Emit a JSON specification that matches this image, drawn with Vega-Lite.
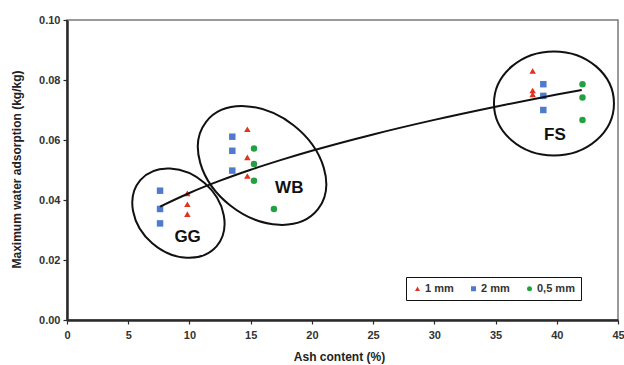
{
  "$schema": "https://vega.github.io/schema/vega-lite/v6.json",
  "autosize": "none",
  "width": 551,
  "height": 300,
  "padding": {"left": 67, "top": 20, "right": 6, "bottom": 45},
  "background": "white",
  "config": {
    "font": "Liberation Sans",
    "view": {"stroke": "#7a7a7a", "strokeWidth": 1.5},
    "axis": {
      "grid": false,
      "labelFont": "Liberation Sans",
      "labelFontWeight": "bold",
      "labelFontSize": 11,
      "labelColor": "#333333",
      "titleFont": "Liberation Sans",
      "titleFontWeight": "bold",
      "titleFontSize": 12,
      "titleColor": "#222222",
      "domainColor": "#2a2a2a",
      "domainWidth": 2.5,
      "tickColor": "#2a2a2a",
      "tickWidth": 1.2,
      "tickSize": 4
    },
    "legend": {
      "labelFont": "Liberation Sans",
      "labelFontWeight": "bold",
      "labelFontSize": 11,
      "labelColor": "#333333"
    }
  },
  "datasets": {
    "points": [
      {"size": "2 mm", "ash": 7.6, "water": 0.0431},
      {"size": "2 mm", "ash": 7.6, "water": 0.037},
      {"size": "2 mm", "ash": 7.6, "water": 0.0322},
      {"size": "1 mm", "ash": 9.83, "water": 0.0422},
      {"size": "1 mm", "ash": 9.83, "water": 0.0386},
      {"size": "1 mm", "ash": 9.83, "water": 0.0353},
      {"size": "2 mm", "ash": 13.5, "water": 0.0611},
      {"size": "2 mm", "ash": 13.5, "water": 0.0564},
      {"size": "2 mm", "ash": 13.5, "water": 0.0498},
      {"size": "1 mm", "ash": 14.73, "water": 0.0636},
      {"size": "1 mm", "ash": 14.73, "water": 0.0542},
      {"size": "1 mm", "ash": 14.73, "water": 0.048},
      {"size": "0,5 mm", "ash": 15.27, "water": 0.0572},
      {"size": "0,5 mm", "ash": 15.27, "water": 0.052},
      {"size": "0,5 mm", "ash": 15.27, "water": 0.0464},
      {"size": "0,5 mm", "ash": 16.9, "water": 0.037},
      {"size": "1 mm", "ash": 38.03, "water": 0.083},
      {"size": "1 mm", "ash": 38.03, "water": 0.0765},
      {"size": "1 mm", "ash": 38.03, "water": 0.0752},
      {"size": "2 mm", "ash": 38.9, "water": 0.0786},
      {"size": "2 mm", "ash": 38.9, "water": 0.0747},
      {"size": "2 mm", "ash": 38.9, "water": 0.07},
      {"size": "0,5 mm", "ash": 42.1, "water": 0.0786},
      {"size": "0,5 mm", "ash": 42.1, "water": 0.0742},
      {"size": "0,5 mm", "ash": 42.1, "water": 0.0667}
    ],
    "trend": [
      {"ash": 7.6, "water": 0.0378},
      {"ash": 10, "water": 0.04234},
      {"ash": 12.5, "water": 0.04644},
      {"ash": 15, "water": 0.05008},
      {"ash": 17.5, "water": 0.05337},
      {"ash": 20, "water": 0.05641},
      {"ash": 25, "water": 0.06186},
      {"ash": 30, "water": 0.06671},
      {"ash": 35, "water": 0.0711},
      {"ash": 40, "water": 0.07514},
      {"ash": 42.04, "water": 0.0767}
    ],
    "groups": [
      {"group": "GG", "cx": 9.1, "cy": 0.0356, "lx": 9.85, "ly": 0.0278},
      {"group": "WB", "cx": 15.93, "cy": 0.0515, "lx": 18.15, "ly": 0.044},
      {"group": "FS", "cx": 39.77, "cy": 0.0722, "lx": 39.85, "ly": 0.0617}
    ]
  },
  "layer": [
    {
      "data": {"name": "groups"},
      "transform": [{"filter": "datum.group == 'GG'"}],
      "mark": {"type": "point", "shape": "M 38.11 33.13 A 50.5 40.3 41 0 1 -38.11 -33.13 A 50.5 40.3 41 0 1 38.11 33.13 Z", "size": 4, "filled": false, "stroke": "#111111", "strokeWidth": 2, "opacity": 1},
      "encoding": {
        "x": {"field": "cx", "type": "quantitative"},
        "y": {"field": "cy", "type": "quantitative"}
      }
    },
    {
      "data": {"name": "groups"},
      "transform": [{"filter": "datum.group == 'WB'"}],
      "mark": {"type": "point", "shape": "M 55.95 43.71 A 71 51.2 38 0 1 -55.95 -43.71 A 71 51.2 38 0 1 55.95 43.71 Z", "size": 4, "filled": false, "stroke": "#111111", "strokeWidth": 2, "opacity": 1},
      "encoding": {
        "x": {"field": "cx", "type": "quantitative"},
        "y": {"field": "cy", "type": "quantitative"}
      }
    },
    {
      "data": {"name": "groups"},
      "transform": [{"filter": "datum.group == 'FS'"}],
      "mark": {"type": "point", "shape": "M 60 0 A 60 52 0 0 1 -60 0 A 60 52 0 0 1 60 0 Z", "size": 4, "filled": false, "stroke": "#111111", "strokeWidth": 2, "opacity": 1},
      "encoding": {
        "x": {"field": "cx", "type": "quantitative"},
        "y": {"field": "cy", "type": "quantitative"}
      }
    },
    {
      "data": {"name": "groups"},
      "mark": {"type": "text", "font": "Liberation Sans", "fontWeight": "bold", "fontSize": 17, "color": "#111111", "baseline": "middle", "align": "center"},
      "encoding": {
        "x": {"field": "lx", "type": "quantitative"},
        "y": {"field": "ly", "type": "quantitative"},
        "text": {"field": "group"}
      }
    },
    {
      "data": {"name": "points"},
      "mark": {"type": "point", "filled": true, "opacity": 1, "size": 42},
      "encoding": {
        "x": {
          "field": "ash", "type": "quantitative",
          "scale": {"domain": [0, 45], "nice": false},
          "axis": {"values": [0, 5, 10, 15, 20, 25, 30, 35, 40, 45], "title": "Ash content (%)", "labelPadding": 5, "titleY": 36, "titleX": 272, "titleBaseline": "middle", "labelFlush": false}
        },
        "y": {
          "field": "water", "type": "quantitative",
          "scale": {"domain": [0, 0.1], "nice": false},
          "axis": {"values": [0, 0.02, 0.04, 0.06, 0.08, 0.1], "format": ".2f", "title": "Maximum water adsorption (kg/kg)", "labelPadding": 3, "titleX": -51, "titleY": 149, "titleAngle": -90, "titleAlign": "center", "titleBaseline": "middle"}
        },
        "color": {
          "field": "size", "type": "nominal",
          "scale": {"domain": ["1 mm", "2 mm", "0,5 mm"], "range": ["#e3321f", "#4f7bcc", "#22a042"]},
          "legend": {
            "title": null, "orient": "none", "legendX": 339, "legendY": 257, "direction": "horizontal",
            "strokeColor": "#111111", "padding": 6, "symbolSize": 25, "labelOffset": 2, "columnPadding": 14,
            "fillColor": "white",
            "encode": {"legend": {"update": {"strokeWidth": {"value": 2}}}}
          }
        },
        "shape": {
          "field": "size", "type": "nominal",
          "scale": {"domain": ["1 mm", "2 mm", "0,5 mm"], "range": ["triangle-up", "square", "circle"]},
          "legend": null
        }
      }
    },
    {
      "data": {"name": "trend"},
      "mark": {"type": "line", "color": "#111111", "strokeWidth": 2, "interpolate": "monotone"},
      "encoding": {
        "x": {"field": "ash", "type": "quantitative"},
        "y": {"field": "water", "type": "quantitative"}
      }
    }
  ]
}
